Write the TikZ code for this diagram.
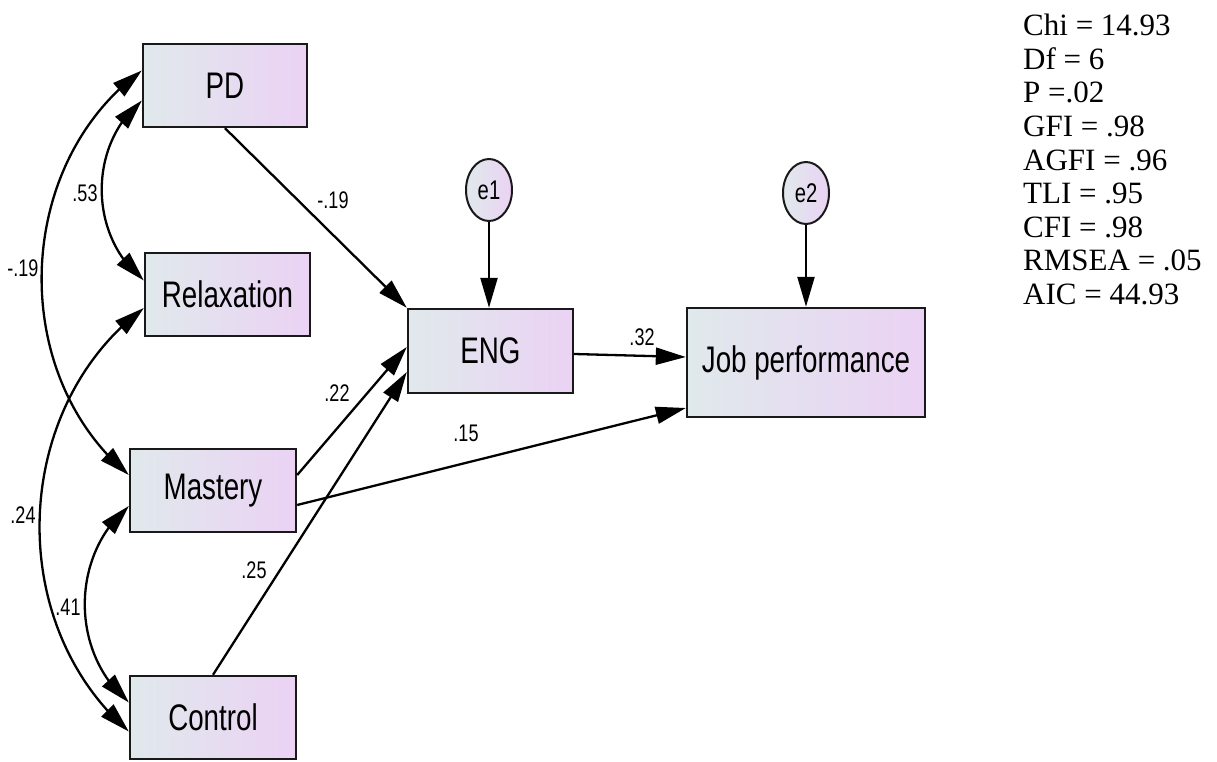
\documentclass[tikz,border=0pt]{standalone}
\usepackage{fontspec}
\setmainfont{Liberation Serif}
\newfontfamily\narrowsans[FakeStretch=0.75]{Liberation Sans}
\usetikzlibrary{arrows.meta,bending,shapes.geometric}

\definecolor{fillL}{RGB}{224,233,236}
\definecolor{fillR}{RGB}{235,210,244}
\definecolor{edgeC}{RGB}{25,25,25}

\tikzset{
  obsbox/.style={draw=edgeC, line width=2.4pt, left color=fillL, right color=fillR,
    inner sep=0pt, font=\narrowsans\fontsize{37}{37}\selectfont},
  errvar/.style={ellipse, draw=edgeC, line width=2pt, left color=fillL, right color=fillR,
    inner sep=0pt, minimum width=46pt, minimum height=62pt,
    font=\narrowsans\fontsize{27}{27}\selectfont},
  tip/.tip={Triangle[length=30pt,width=17pt]},
  regpath/.style={line width=2.3pt, -tip},
  covpath/.style={line width=2.3pt, tip-tip},
  coef/.style={font=\narrowsans\fontsize{24}{24}\selectfont, inner sep=0pt},
}

\begin{document}
\begin{tikzpicture}[x=1pt, y=-1pt]
  \useasboundingbox (0,0) rectangle (1217,762);

  % observed variables
  \node[obsbox, minimum width=164pt, minimum height=83pt] (PD)      at (225,85.5)   {PD};
  \node[obsbox, minimum width=165pt, minimum height=83pt] (Relax)   at (227.5,294.5) {Relaxation};
  \node[obsbox, minimum width=166pt, minimum height=83pt] (Mastery) at (213,490.5)  {Mastery};
  \node[obsbox, minimum width=166pt, minimum height=83pt] (Control) at (213,717.5)  {Control};
  \node[obsbox, minimum width=165pt, minimum height=84pt] (ENG)     at (490.5,351)  {ENG};
  \node[obsbox, minimum width=238pt, minimum height=109pt] (Job)    at (806,362.5)  {Job performance};

  % error terms
  \node[errvar] (e1) at (489,190) {e1};
  \node[errvar] (e2) at (806,193) {e2};

  % regression paths
  \draw[regpath] (PD.south) -- (ENG.north west);
  \draw[regpath] ([yshift=15.5pt]Mastery.east) -- ([yshift=4pt]ENG.west);
  \draw[regpath] (Control.north) -- ([yshift=-21pt]ENG.west);
  \draw[regpath] ([yshift=-14.5pt]Mastery.east) -- ([yshift=-45.5pt]Job.west);
  \draw[regpath] ([yshift=-3pt]ENG.east) -- ([yshift=5.5pt]Job.west);
  \draw[regpath] (e1.south) -- (e1.south |- ENG.north);
  \draw[regpath] (e2.south) -- (e2.south |- Job.north);

  % covariances
  \draw[covpath] ([yshift=-15pt]PD.west) to[bend right=51] ([yshift=14pt]Relax.west);
  \draw[covpath] ([yshift=15pt]PD.west) to[bend right=52] ([yshift=15.5pt]Mastery.west);
  \draw[covpath] ([yshift=-13.5pt]Relax.west) to[bend right=51] ([yshift=-14pt]Control.west);
  \draw[covpath] ([yshift=-15.5pt]Mastery.west) to[bend right=50] ([yshift=15pt]Control.west);

  % coefficients
  \node[coef] (cPD)   at (333,200) {-.19};
  \node[coef] (cPDR)  at (85,193)  {.53};
  \node[coef] (cPDM)  at (23,268)  {-.19};
  \node[coef] (cRC)   at (23,515)  {.24};
  \node[coef] (cMC)   at (68,607)  {.41};
  \node[coef] (cME)   at (337,393) {.22};
  \node[coef] (cCE)   at (254,570) {.25};
  \node[coef] (cMJ)   at (466,433) {.15};
  \node[coef] (cEJ)   at (642,337) {.32};

  % fit statistics
  \node[anchor=north west, inner sep=0pt, align=left,
        font=\fontsize{31}{33.6}\selectfont] (fit) at (1023,14)
    {Chi = 14.93\\Df = 6\\P =.02\\GFI = .98\\AGFI = .96\\TLI = .95\\CFI = .98\\RMSEA = .05\\AIC = 44.93};
\end{tikzpicture}
\end{document}
